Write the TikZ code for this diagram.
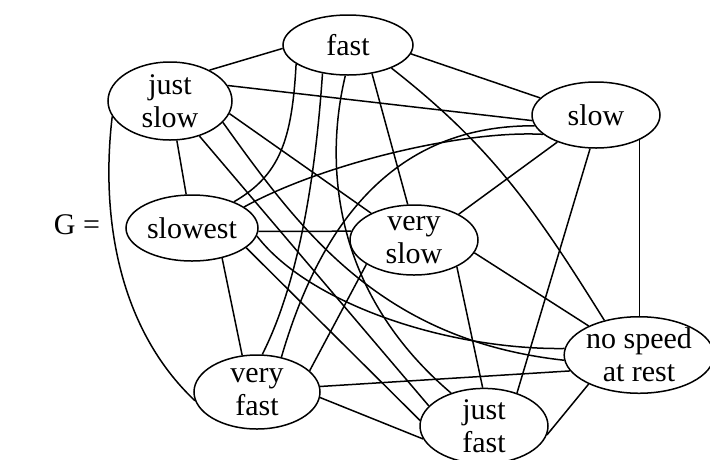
\documentclass[tikz,border=0pt]{standalone}
\usepackage{fontspec}
\setmainfont{Liberation Serif}
\usetikzlibrary{shapes.geometric}
\tikzset{term/.style={draw,ellipse,line width=1.5pt,inner sep=0pt,align=center,font=\fontsize{30}{33}\selectfont},
 link/.style={line width=1.5pt}}

\begin{document}
\begin{tikzpicture}[x=1pt,y=1pt]
\useasboundingbox (0,0) rectangle (710,-459);
\node[font=\fontsize{30}{33}\selectfont] (G) at (77,-225) {G =};
\node[term,minimum width=130pt,minimum height=60pt] (fast) at (348,-45) {fast};
\node[term,minimum width=124pt,minimum height=78pt] (jslow) at (170,-101) {just\\slow};
\node[term,minimum width=128pt,minimum height=66pt] (slow) at (596,-115) {slow};
\node[term,minimum width=132pt,minimum height=66pt] (slowest) at (192,-228) {slowest};
\node[term,minimum width=128pt,minimum height=70pt] (vslow) at (414,-240) {very\\slow};
\node[term,minimum width=138pt,minimum height=74pt] (nspeed) at (639,-355) {no speed\\at rest};
\node[term,minimum width=126pt,minimum height=74pt] (vfast) at (257,-392) {very\\fast};
\node[term,minimum width=128pt,minimum height=72pt] (jfast) at (484,-426) {just\\fast};
% from fast
\draw[link] (jslow.38) -- (fast.183);\draw[link] (fast.-8) -- (slow.163);\draw[link] (fast.-50) -- (vslow.100);
\draw[link] (fast.200) .. controls (292,-140) and (280,-175) .. (slowest.32);
\draw[link] (fast.-28) to[out=-38,in=122] (nspeed.135);
\draw[link] (fast.228) .. controls (316,-170) and (300,-280) .. (vfast.82);
\draw[link] (fast.265) .. controls (325,-160) and (330,-290) .. (jfast.135);
% from just slow
\draw[link] (jslow.15) -- (slow.185);\draw[link] (jslow) -- (slowest);\draw[link] (jslow.-12) -- (vslow.148);
\draw[link] (jslow.-50) -- (jfast.160);
\draw[link] (jslow.-22) .. controls (300,-230) and (380,-340) .. (nspeed.184);
\draw[link] (jslow.195) .. controls (100,-220) and (120,-330) .. (vfast.188);
% from slow
\draw[link] (slow.215) -- (vslow.30);\draw[link] (slow.-100) -- (jfast.45);\draw[link] (slow.-30) -- (slow.-30 |- nspeed.north);
\draw[link] (slow.190) .. controls (420,-125) and (330,-190) .. (vfast.55);
\draw[link] (slow.200) .. controls (460,-130) and (320,-165) .. (slowest.22);
% the rest
\draw[link] (slowest.-3) -- (vslow.172);\draw[link] (slowest.-45) -- (vfast.112);\draw[link] (slowest.-20) -- (jfast.175);
\draw[link] (slowest.-7) .. controls (310,-305) and (450,-350) .. (nspeed.175);
\draw[link] (vslow.207) -- (vfast.22);\draw[link] (vslow.-12) -- (nspeed.150);\draw[link] (vslow.-32) -- (jfast.92);
\draw[link] (vfast.5) -- (nspeed.193);\draw[link] (vfast.-5) -- (jfast.192);\draw[link] (nspeed.210) -- (jfast.-8);
\end{tikzpicture}
\end{document}
